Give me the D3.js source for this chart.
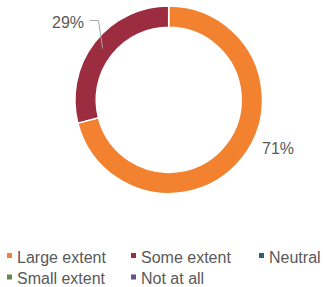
<!DOCTYPE html>
<html><head><meta charset="utf-8">
<script src="https://cdn.jsdelivr.net/npm/d3@7"></script>
<style>body{margin:0;background:#fff}svg{display:block}</style>
</head><body>
<script>
const categories = ["Large extent","Some extent","Neutral","Small extent","Not at all"];
const values = [71, 29, 0, 0, 0];
const colors = ["#F28230","#9C2C3F","#2C5F7C","#5B8E4B","#6B4C8C"];

const W = 323, H = 287;
const svg = d3.select("body").append("svg").attr("width", W).attr("height", H);
const cx = 168.7, cy = 99.8, rOut = 93.8, rIn = 72.5;
const g = svg.append("g").attr("transform", `translate(${cx},${cy})`);
const data = categories.map((c,i)=>({cat:c, value:values[i], color:colors[i]}));
const pie = d3.pie().sort(null).value(d=>d.value);
const arcs = pie(data).filter(d=>d.data.value>0);
const arc = d3.arc().innerRadius(rIn).outerRadius(rOut);
g.selectAll("path").data(arcs).join("path")
  .attr("d", arc).attr("fill", d=>d.data.color)
  .attr("stroke", "#fff").attr("stroke-width", 1.5);

const font = "'Liberation Sans', Arial, sans-serif";
const txtColor = "#595959";
// 71% label
const a0 = arcs[0];
svg.append("text").attr("x", 262).attr("y", 153.5)
  .attr("font-family", font).attr("font-size", 16).attr("fill", txtColor)
  .text(a0.data.value + "%");
// 29% label with leader
const a1 = arcs[1];
const mid = (a1.startAngle + a1.endAngle)/2;
const rl = (rIn + rOut)/2 + 0.5;
const px = cx + Math.sin(mid)*rl, py = cy - Math.cos(mid)*rl;
svg.append("path")
  .attr("d", `M90,20.5 L98.5,20.5 L${px},${py}`)
  .attr("fill","none").attr("stroke","#A6A6A6").attr("stroke-width",1);
svg.append("text").attr("x", 52).attr("y", 27.5)
  .attr("font-family", font).attr("font-size", 16).attr("fill", txtColor)
  .text(a1.data.value + "%");

// legend
const legX = [7, 131, 259];
const legend = svg.append("g");
data.forEach((d,i)=>{
  const col = i % 3, row = Math.floor(i/3);
  const x = legX[col], y = 262.5 + row*21.5;
  legend.append("rect").attr("x", x).attr("y", y-9.5).attr("width", 5).attr("height", 5).attr("fill", d.color);
  legend.append("text").attr("x", x+10).attr("y", y)
    .attr("font-family", font).attr("font-size", 16).attr("fill", txtColor).text(d.cat);
});
</script>
</body></html>
